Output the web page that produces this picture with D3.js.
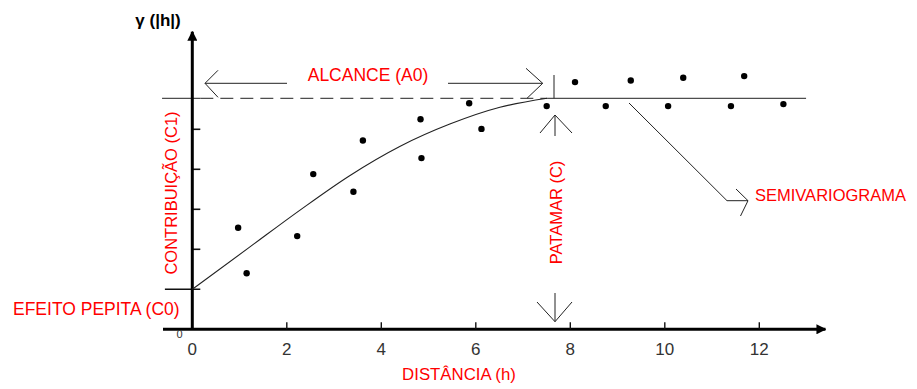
<!DOCTYPE html>
<html>
<head>
<meta charset="utf-8">
<script src="https://cdn.jsdelivr.net/npm/d3@7"></script>
<style>
  body { margin: 0; background: #fff; }
  svg text { font-family: "Liberation Sans", Arial, sans-serif; }
</style>
</head>
<body>
<div id="chart"></div>
<script>
const W = 917, H = 389;

// data
const xTicks = [0, 2, 4, 6, 8, 10, 12];
const yTicks = [1, 2, 3, 4, 5];
const pointH     = [0.97, 1.15, 2.22, 2.56, 3.41, 3.61, 4.85, 4.83, 5.86, 6.12, 7.50, 8.10, 8.75, 9.28, 10.07, 10.39, 11.40, 11.68, 12.51];
const pointGamma = [2.54, 1.40, 2.33, 3.88, 3.44, 4.72, 4.28, 5.25, 5.65, 5.01, 5.58, 6.18, 5.58, 6.22, 5.58, 6.29, 5.58, 6.33, 5.63];
const curveH     = [0, 1.22, 2.28, 3.33, 4.39, 5.45, 6.51, 7.51];
const curveGamma = [1, 2.06, 2.98, 3.84, 4.57, 5.13, 5.55, 5.775];
const nugget = 1;
const sill = 5.775;
const range = 7.51;

const RED = "#ff0000";

const x = d3.scaleLinear().domain([0, 12]).range([192.3, 759.3]);
const y = d3.scaleLinear().domain([0, 5]).range([329.3, 129.3]);

const svg = d3.select("#chart").append("svg").attr("width", W).attr("height", H);

svg.append("defs").append("marker")
  .attr("id", "head")
  .attr("viewBox", "0 0 10 10")
  .attr("refX", 9).attr("refY", 5)
  .attr("markerWidth", 10).attr("markerHeight", 10)
  .attr("markerUnits", "userSpaceOnUse")
  .attr("orient", "auto")
  .append("path").attr("d", "M0,0 L10,5 L0,10 Z").attr("fill", "#000");

// open chevron arrow helper
function chevron(tx, ty, ax1, ay1, ax2, ay2) {
  svg.append("path")
    .attr("d", `M${ax1},${ay1} L${tx},${ty} L${ax2},${ay2}`)
    .attr("fill", "none").attr("stroke", "#222").attr("stroke-width", 1);
}
function line(x1, y1, x2, y2, extra) {
  const l = svg.append("line")
    .attr("x1", x1).attr("y1", y1).attr("x2", x2).attr("y2", y2)
    .attr("stroke", "#222").attr("stroke-width", 1);
  if (extra) l.attr("stroke-dasharray", extra);
  return l;
}

// sill line: solid left of axis, dashed to range, solid after
line(x(-0.64), y(sill), x(0.17), y(sill));
line(x(0.17), y(sill), x(range), y(sill), "13,7");
line(x(range), y(sill), x(12.99), y(sill));

// y ticks
yTicks.forEach(t => {
  const x0 = t === nugget ? x(-0.58) : x(0);
  svg.append("line")
    .attr("x1", x0).attr("x2", x(0) + 8)
    .attr("y1", y(t)).attr("y2", y(t))
    .attr("stroke", "#111").attr("stroke-width", 1.6);
});

// axes
svg.append("line")
  .attr("x1", x(-0.62)).attr("x2", x(13.4))
  .attr("y1", y(0)).attr("y2", y(0))
  .attr("stroke", "#000").attr("stroke-width", 3)
  .attr("marker-end", "url(#head)");
svg.append("line")
  .attr("x1", x(0)).attr("x2", x(0))
  .attr("y1", y(0)).attr("y2", y(7.44))
  .attr("stroke", "#000").attr("stroke-width", 3)
  .attr("marker-end", "url(#head)");

// x ticks
xTicks.forEach(t => {
  if (t > 0) {
    svg.append("line")
      .attr("x1", x(t)).attr("x2", x(t))
      .attr("y1", y(0)).attr("y2", y(0) - 7)
      .attr("stroke", "#111").attr("stroke-width", 1.4);
  }
  svg.append("text")
    .attr("x", x(t)).attr("y", 355)
    .attr("text-anchor", "middle")
    .attr("font-size", 17).attr("fill", "#333")
    .text(t);
});

// clipped "0" under the y axis
svg.append("clipPath").attr("id", "clip0")
  .append("rect").attr("x", 170).attr("y", 330).attr("width", 20).attr("height", 8);
svg.append("text")
  .attr("x", 179.5).attr("y", 338)
  .attr("text-anchor", "middle")
  .attr("font-size", 11).attr("fill", "#333")
  .attr("clip-path", "url(#clip0)")
  .text("0");

// model curve
const curveData = curveH.map((h, i) => [h, curveGamma[i]]);
svg.append("path")
  .datum(curveData)
  .attr("d", d3.line().x(d => x(d[0])).y(d => y(d[1])).curve(d3.curveMonotoneX))
  .attr("fill", "none").attr("stroke", "#222").attr("stroke-width", 1.1);

// experimental points
svg.selectAll("circle.pt")
  .data(pointH.map((h, i) => [h, pointGamma[i]]))
  .join("circle")
  .attr("class", "pt")
  .attr("cx", d => x(d[0])).attr("cy", d => y(d[1]))
  .attr("r", 3.2).attr("fill", "#000");

// ALCANCE arrow
const ya = y(6.15);
line(205, ya, 287, ya);
chevron(205, ya, 218, ya - 13, 218, ya + 14);
line(448, ya, 542.7, ya);
chevron(542.7, ya, 526, ya - 15, 527, ya + 15);
svg.append("text")
  .attr("x", 368).attr("y", 81)
  .attr("text-anchor", "middle")
  .attr("font-size", 17.5).attr("fill", RED)
  .text("ALCANCE (A0)");

// tick at range on sill
line(554, 75, 554, y(sill));

// PATAMAR arrows
line(555, 115, 555, 136);
chevron(555, 115, 540, 133, 572, 133);
line(555, 293, 555, 321.7);
chevron(555, 321.7, 537, 302, 572, 302);
svg.append("text")
  .attr("transform", "translate(562,212.5) rotate(-90)")
  .attr("text-anchor", "middle")
  .attr("font-size", 16.5).attr("fill", RED)
  .text("PATAMAR (C)");

// SEMIVARIOGRAMA pointer
svg.append("path")
  .attr("d", "M629,103 L727,200.7 L748,200.7")
  .attr("fill", "none").attr("stroke", "#222").attr("stroke-width", 1);
chevron(748, 200.7, 736, 189, 740.5, 216);
svg.append("text")
  .attr("x", 755).attr("y", 201)
  .attr("font-size", 16.5).attr("fill", RED)
  .text("SEMIVARIOGRAMA");

// CONTRIBUIÇÃO
svg.append("text")
  .attr("transform", "translate(177,193) rotate(-90)")
  .attr("text-anchor", "middle")
  .attr("font-size", 16.5).attr("fill", RED)
  .text("CONTRIBUIÇÃO (C1)");

// EFEITO PEPITA
svg.append("text")
  .attr("x", 13).attr("y", 315)
  .attr("font-size", 17.5).attr("fill", RED)
  .text("EFEITO PEPITA (C0)");

// DISTÂNCIA
svg.append("text")
  .attr("x", 459).attr("y", 380)
  .attr("text-anchor", "middle")
  .attr("font-size", 16.8).attr("fill", RED)
  .text("DISTÂNCIA (h)");

// y title
svg.append("text")
  .attr("x", 158).attr("y", 26)
  .attr("text-anchor", "middle")
  .attr("font-size", 17).attr("font-weight", "bold").attr("fill", "#000")
  .text("γ (|h|)");
</script>
</body>
</html>
